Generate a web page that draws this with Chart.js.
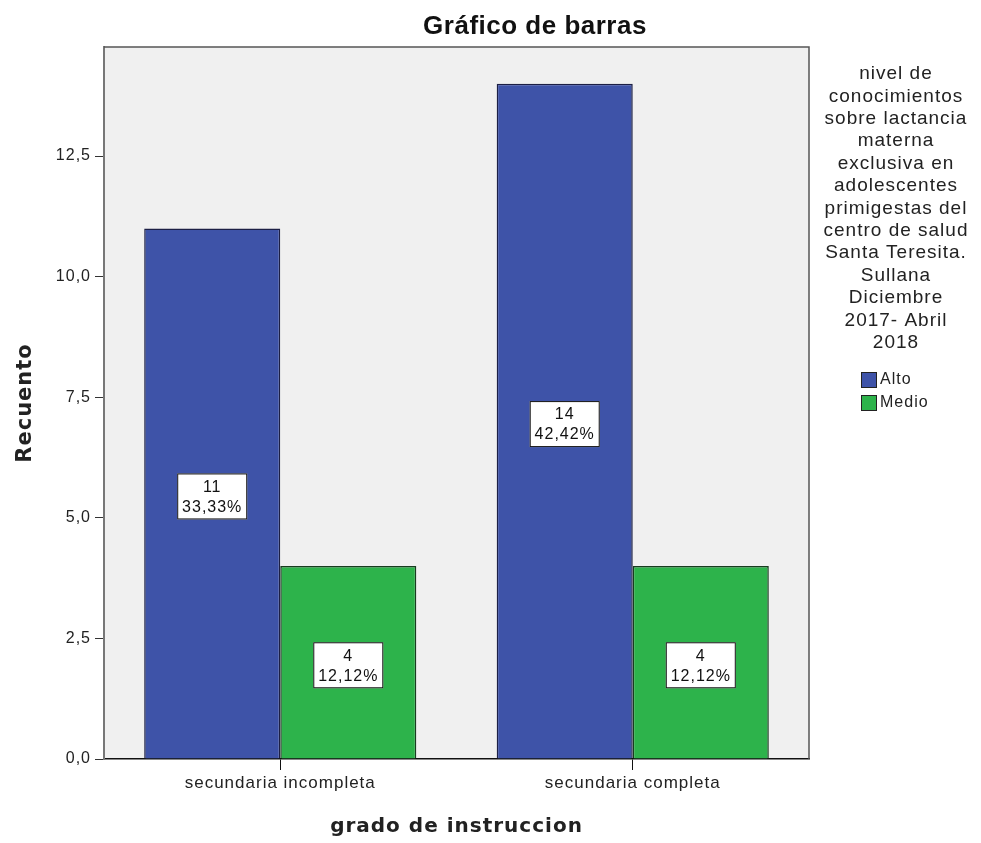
<!DOCTYPE html>
<html>
<head>
    <meta charset="utf-8">
    <title>Gráfico de barras</title>
    <script src="https://cdn.jsdelivr.net/npm/chart.js"></script>
</head>
<body style="margin:0; background-color:white;">
<div style="width:981px; height:843px;">
    <canvas id="myChart"></canvas>
</div>
<script>
    // data
    const categories = ['secundaria incompleta', 'secundaria completa'];
    const seriesNames = ['Alto', 'Medio'];
    const altoCounts = [11, 14];
    const medioCounts = [4, 4];
    const altoPct = [33.33, 42.42];
    const medioPct = [12.12, 12.12];
    const yTicks = [0, 2.5, 5, 7.5, 10, 12.5];
    const legendTitle = ['nivel de', 'conocimientos', 'sobre lactancia', 'materna', 'exclusiva en',
        'adolescentes', 'primigestas del', 'centro de salud', 'Santa Teresita.', 'Sullana',
        'Diciembre', '2017- Abril', '2018'];

    const fmt = v => v.toFixed(1).replace('.', ',');
    const fmtPct = v => v.toFixed(2).replace('.', ',') + '%';
    const pctBySeries = [altoPct, medioPct];

    const spssLook = {
        id: 'spssLook',
        beforeDraw(chart) {
            const { ctx, chartArea: a } = chart;
            ctx.letterSpacing = '1px';
            ctx.save();
            ctx.fillStyle = '#f0f0f0';
            ctx.fillRect(a.left, a.top, a.right - a.left, a.bottom - a.top);
            ctx.restore();
        },
        afterDatasetsDraw(chart) {
            const { ctx } = chart;
            ctx.save();
            chart.data.datasets.forEach((ds, di) => {
                chart.getDatasetMeta(di).data.forEach((bar, i) => {
                    const cy = (bar.y + bar.base) / 2 + 3;
                    const w = 70, h = 46;
                    ctx.fillStyle = '#fff';
                    ctx.fillRect(bar.x - w / 2, cy - h / 2, w, h);
                    ctx.strokeStyle = '#111';
                    ctx.lineWidth = 1;
                    ctx.strokeRect(bar.x - w / 2 + 0.5, cy - h / 2 + 0.5, w - 1, h - 1);
                    ctx.fillStyle = '#111';
                    ctx.font = '16px "Liberation Sans"';
                    ctx.letterSpacing = '1px';
                    ctx.textAlign = 'center';
                    ctx.textBaseline = 'middle';
                    ctx.fillText(String(ds.data[i]), bar.x, cy - 9);
                    ctx.fillText(fmtPct(pctBySeries[di][i]), bar.x, cy + 11);
                });
            });
            ctx.restore();
        },
        afterDraw(chart) {
            const { ctx, chartArea: a } = chart;
            ctx.save();
            // frame top / right
            ctx.strokeStyle = '#555';
            ctx.lineWidth = 1.5;
            ctx.beginPath();
            ctx.moveTo(a.left, a.top);
            ctx.lineTo(a.right, a.top);
            ctx.lineTo(a.right, a.bottom);
            ctx.stroke();

            // title
            ctx.fillStyle = '#111';
            ctx.font = 'bold 26px "Liberation Sans"';
            ctx.letterSpacing = '0.5px';
            ctx.textAlign = 'center';
            ctx.textBaseline = 'alphabetic';
            ctx.fillText('Gráfico de barras', 535, 34);

            // legend
            ctx.font = '19px "Liberation Sans"';
            ctx.letterSpacing = '1px';
            ctx.fillStyle = '#222';
            ctx.textBaseline = 'middle';
            legendTitle.forEach((line, i) => ctx.fillText(line, 896, 74 + i * 22.4));
            ctx.textAlign = 'left';
            ctx.font = '16px "Liberation Sans"';
            chart.data.datasets.forEach((ds, i) => {
                const y = 380 + i * 23;
                ctx.fillStyle = ds.backgroundColor;
                ctx.fillRect(861, y - 8, 16, 16);
                ctx.strokeStyle = '#222';
                ctx.lineWidth = 1;
                ctx.strokeRect(861.5, y - 7.5, 15, 15);
                ctx.fillStyle = '#222';
                ctx.fillText(ds.label, 880, y);
            });
            ctx.restore();
        }
    };

    const ctx = document.getElementById('myChart').getContext('2d');
    window.myChart = new Chart(ctx, {
        type: 'bar',
        data: {
            labels: categories,
            datasets: [{
                label: seriesNames[0],
                data: altoCounts,
                backgroundColor: '#3e53a8',
                borderColor: '#1c1f45',
                borderWidth: 1.5
            }, {
                label: seriesNames[1],
                data: medioCounts,
                backgroundColor: '#2db34b',
                borderColor: '#173d1f',
                borderWidth: 1.5
            }]
        },
        options: {
            animation: false,
            responsive: true,
            maintainAspectRatio: false,
            layout: { padding: { top: 47, right: 172, left: 0, bottom: 0 } },
            plugins: {
                legend: { display: false },
                tooltip: { enabled: false }
            },
            datasets: {
                bar: { barPercentage: 1, categoryPercentage: 0.772 }
            },
            scales: {
                x: {
                    grid: { drawOnChartArea: false, offset: false, tickLength: 11, color: '#111' },
                    border: { color: '#111', width: 1.5 },
                    ticks: { color: '#222', padding: 3, font: { family: 'Liberation Sans', size: 17 } },
                    title: {
                        display: true, text: 'grado de instruccion', color: '#222',
                        font: { family: 'DejaVu Sans', size: 20, weight: 'bold' },
                        padding: { top: 0, bottom: 4 }
                    },
                    afterFit(scale) { scale.height = 84; }
                },
                y: {
                    min: 0,
                    max: 14.76,
                    grid: { drawOnChartArea: false, tickLength: 9, color: '#333' },
                    border: { color: '#777', width: 2 },
                    afterBuildTicks(scale) { scale.ticks = yTicks.map(v => ({ value: v })); },
                    ticks: {
                        color: '#222', padding: 4,
                        font: { family: 'Liberation Sans', size: 16 },
                        callback: v => fmt(v)
                    },
                    title: {
                        display: true, text: 'Recuento', color: '#222',
                        font: { family: 'DejaVu Sans', size: 21, weight: 'bold' },
                        padding: { top: 13, bottom: 0 }
                    },
                    afterFit(scale) { scale.width = 104; }
                }
            }
        },
        plugins: [spssLook]
    });
</script>
</body>
</html>
